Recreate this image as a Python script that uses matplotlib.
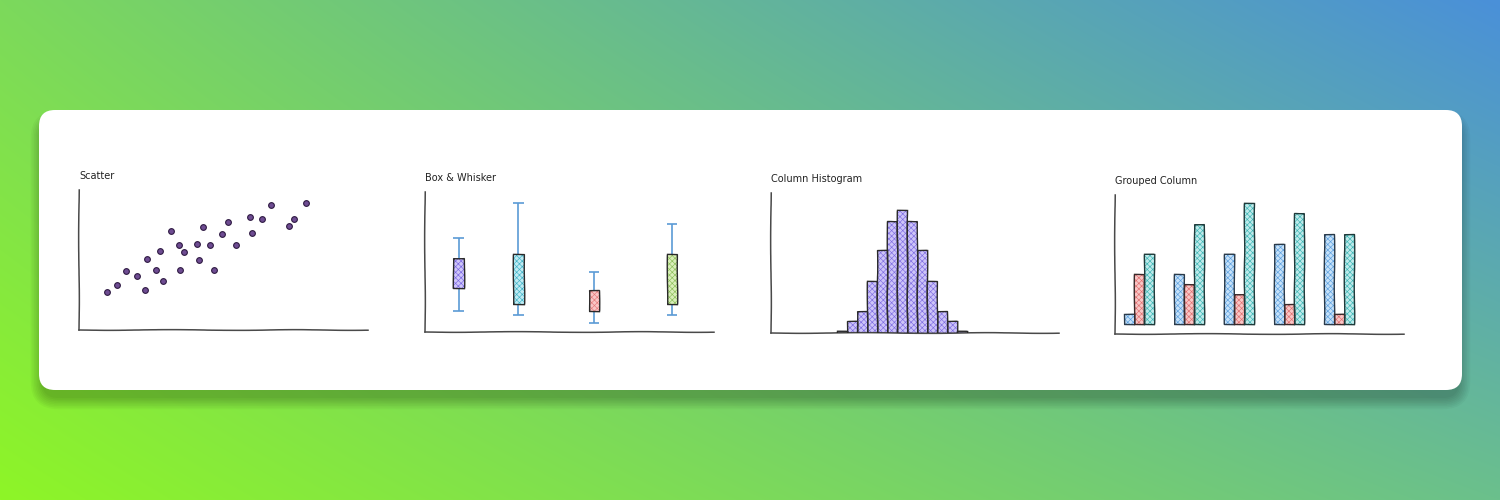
import numpy as np
import matplotlib
matplotlib.use("Agg")
from matplotlib import pyplot as plt
from matplotlib.patches import FancyBboxPatch

# Scatter data
scatter_x = [9.8, 13.2, 16.2, 20.0, 22.9, 23.6, 26.6, 28.2, 29.1, 31.8, 34.6, 35.1, 36.2, 40.8,
             41.6, 42.9, 45.5, 46.7, 49.5, 51.6, 54.4, 59.0, 59.7, 63.2, 66.4, 72.6, 74.5, 78.7]
scatter_y = [27.1, 32.1, 42.1, 38.6, 28.8, 50.5, 43.1, 56.7, 34.8, 70.7, 60.5, 42.9, 56.0, 61.2,
             49.8, 73.3, 61.0, 42.6, 68.3, 77.4, 61.0, 80.5, 69.3, 79.3, 89.0, 74.5, 79.5, 90.5]

# Box & whisker data
box_x = [11.6, 32.3, 58.4, 85.4]
box_q1 = [31.4, 20.0, 15.2, 20.0]
box_q3 = [53.1, 56.0, 30.2, 56.0]
box_lo = [15.0, 12.1, 6.4, 12.1]
box_hi = [67.1, 92.4, 42.6, 76.9]

# Histogram data
hist_counts = [1.5, 8.6, 15.8, 37.3, 58.9, 80.1, 87.6, 80.1, 58.9, 37.3, 15.8, 8.6, 1.5]

# Grouped column data
group_blue = [8.0, 39.2, 54.4, 62.4, 69.8]
group_red = [38.9, 31.4, 23.5, 16.0, 7.7]
group_teal = [54.1, 77.8, 93.6, 85.8, 69.8]

W, H = 1500, 500
plt.rcParams['font.family'] = ['DejaVu Sans']
plt.rcParams['hatch.linewidth'] = 0.45

fig = plt.figure(figsize=(15, 5), dpi=100)

# background gradient (corner colours blended)
bg = fig.add_axes([0, 0, 1, 1])
tl = np.array([0x7c, 0xd9, 0x5c]) / 255
tr = np.array([0x4a, 0x90, 0xd9]) / 255
bl = np.array([0x8e, 0xf5, 0x27]) / 255
br = np.array([0x6b, 0xc0, 0x8c]) / 255
u = np.linspace(0, 1, W)[None, :, None]
v = np.linspace(0, 1, H)[:, None, None]
img = (1 - u) * (1 - v) * tl + u * (1 - v) * tr + (1 - u) * v * bl + u * v * br
bg.imshow(img, extent=(0, W, H, 0), aspect='auto', zorder=0)
bg.set_xlim(0, W)
bg.set_ylim(H, 0)
bg.axis('off')

# card shadow + card
for i in range(8):
    grow = i * 1.6
    bg.add_patch(FancyBboxPatch((42 - grow, 122 - grow), 1417 + 2 * grow, 276 + 2 * grow,
                                boxstyle='round,pad=0,rounding_size=%f' % (16 + grow),
                                fc='black', ec='none', alpha=0.03, zorder=1))
bg.add_patch(FancyBboxPatch((39, 110), 1423, 280, boxstyle='round,pad=0,rounding_size=16',
                            fc='white', ec='none', zorder=2))


def px_axes(l, t, r, b, title):
    ax = fig.add_axes([l / W, 1 - b / H, (r - l) / W, (b - t) / H])
    ax.patch.set_alpha(0)
    for s in ['top', 'right']:
        ax.spines[s].set_visible(False)
    for s in ['left', 'bottom']:
        ax.spines[s].set_color('#4a4a4a')
        ax.spines[s].set_linewidth(1.1)
        ax.spines[s].set_sketch_params(0.35, 150, 3)
    ax.set_xticks([])
    ax.set_yticks([])
    ax.set_title(title, loc='left', fontsize=7, pad=8, color='#222222')
    return ax


def rough_bar(ax, x, h, width, bottom, fill, hatch_col, edge='#2a2a2a'):
    b1 = ax.bar(x, h, width=width, bottom=bottom, color=fill, edgecolor=hatch_col,
                linewidth=0, hatch='xxxxxx', zorder=2)
    b2 = ax.bar(x, h, width=width, bottom=bottom, fill=False, edgecolor=edge,
                linewidth=1.0, zorder=3)
    for p in b2:
        p.set_sketch_params(0.25, 80, 3)
    return b1, b2


# Scatter
ax1 = px_axes(79, 190, 368, 330, 'Scatter')
ax1.scatter(scatter_x, scatter_y, s=17, c='#6e4c92', edgecolors='#2e1a42', linewidths=0.8, zorder=3)
ax1.set_xlim(0, 100)
ax1.set_ylim(0, 100)

# Box & Whisker
ax2 = px_axes(425, 192, 714, 332, 'Box & Whisker')
box_fill = ['#cfc6f9', '#bfeaf2', '#f8c6c6', '#d9eeb9']
box_hatch = ['#7b69e3', '#3fb3c8', '#e57a7a', '#8cbf5a']
bw = 3.6
ax2.vlines(box_x, box_lo, box_hi, color='#5b9bd5', linewidth=1.2, zorder=1)
ax2.hlines(box_lo, np.array(box_x) - bw / 2, np.array(box_x) + bw / 2, color='#5b9bd5', linewidth=1.2, zorder=1)
ax2.hlines(box_hi, np.array(box_x) - bw / 2, np.array(box_x) + bw / 2, color='#5b9bd5', linewidth=1.2, zorder=1)
for i in range(len(box_x)):
    rough_bar(ax2, box_x[i], box_q3[i] - box_q1[i], bw, box_q1[i], box_fill[i], box_hatch[i])
ax2.set_xlim(0, 100)
ax2.set_ylim(0, 100)

# Column Histogram
ax3 = px_axes(770.7, 193, 1059, 332.7, 'Column Histogram')
rough_bar(ax3, np.arange(len(hist_counts)), hist_counts, 1.0, 0, '#cdc4f8', '#7e6de2')
ax3.set_xlim(-7.07, 21.66)
ax3.set_ylim(0, 100)

# Grouped Column
ax4 = px_axes(1115, 195, 1404, 334, 'Grouped Column')
gx = np.arange(len(group_blue))
rough_bar(ax4, gx - 0.2, group_blue, 0.2, 0, '#c6e1f8', '#5a9fe0', edge='#2a3a4a')
rough_bar(ax4, gx, group_red, 0.2, 0, '#f8c6c6', '#e07070', edge='#3a2a2a')
rough_bar(ax4, gx + 0.2, group_teal, 0.2, 0, '#bdeaea', '#3db5b5', edge='#1f3a3a')
ax4.set_xlim(-0.48, 5.31)
ax4.set_ylim(-7.5, 100)

fig.savefig('out.png', dpi=100)
